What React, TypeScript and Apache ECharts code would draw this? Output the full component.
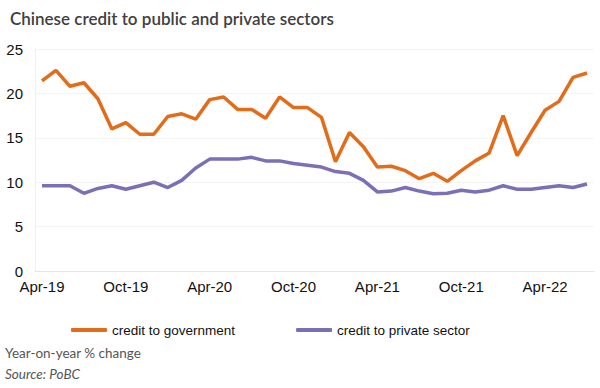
import React, { useEffect, useRef } from "react";
import * as echarts from "echarts";

const months = [
  "Apr-19","May-19","Jun-19","Jul-19","Aug-19","Sep-19","Oct-19","Nov-19","Dec-19","Jan-20","Feb-20","Mar-20",
  "Apr-20","May-20","Jun-20","Jul-20","Aug-20","Sep-20","Oct-20","Nov-20","Dec-20","Jan-21","Feb-21","Mar-21",
  "Apr-21","May-21","Jun-21","Jul-21","Aug-21","Sep-21","Oct-21","Nov-21","Dec-21","Jan-22","Feb-22","Mar-22",
  "Apr-22","May-22","Jun-22","Jul-22",
];

const creditGovernment = [
  21.4, 22.6, 20.8, 21.2, 19.4, 16.0, 16.7, 15.4, 15.4, 17.4, 17.7, 17.1,
  19.3, 19.6, 18.2, 18.2, 17.2, 19.6, 18.4, 18.4, 17.3, 12.3, 15.6, 14.0,
  11.7, 11.8, 11.3, 10.4, 11.0, 10.1, 11.3, 12.4, 13.3, 17.5, 13.0, 15.6,
  18.1, 19.1, 21.8, 22.3,
];

const creditPrivate = [
  9.6, 9.6, 9.6, 8.75, 9.3, 9.6, 9.2, 9.6, 10.0, 9.4, 10.2, 11.6,
  12.6, 12.6, 12.6, 12.8, 12.4, 12.4, 12.1, 11.9, 11.7, 11.2, 11.0, 10.2,
  8.9, 9.0, 9.4, 9.0, 8.7, 8.75, 9.1, 8.9, 9.1, 9.6, 9.2, 9.2,
  9.4, 9.6, 9.4, 9.8,
];

const yTicks = { min: 0, max: 25, interval: 5 };

const title = "Chinese credit to public and private sectors";
const note = "Year-on-year % change";
const source = "Source: PoBC";
const seriesNames = ["credit to government", "credit to private sector"];
const colors = ["#E36C1A", "#7B70B6"];

export default function App() {
  const ref = useRef<HTMLDivElement>(null);

  useEffect(() => {
    document.body.style.margin = "0";
    if (!ref.current) return;
    const chart = echarts.init(ref.current, undefined, { renderer: "svg" });
    chart.setOption({
      animation: false,
      backgroundColor: "#ffffff",
      color: colors,
      title: {
        text: title,
        left: 5,
        top: 5,
        textStyle: {
          fontFamily: "Lato",
          fontSize: 17,
          fontWeight: 600,
          color: "#404040",
        },
      },
      grid: { left: 35, right: 6, top: 49, bottom: 117, containLabel: false },
      legend: {
        left: 66,
        top: 318,
        itemGap: 61,
        itemWidth: 36,
        itemHeight: 4,
        icon: "roundRect",
        textStyle: { fontFamily: "Liberation Sans", fontSize: 13.5, color: "#111" },
        data: seriesNames,
      },
      xAxis: {
        type: "category",
        data: months,
        boundaryGap: true,
        axisLine: { lineStyle: { color: "#e6e6e6", width: 1 } },
        axisTick: { interval: 5, length: 4, lineStyle: { color: "#dddddd" } },
        axisLabel: {
          interval: 5,
          margin: 8,
          fontFamily: "Liberation Sans",
          fontSize: 15,
          color: "#111",
        },
        splitLine: { show: false },
      },
      yAxis: {
        type: "value",
        min: yTicks.min,
        max: yTicks.max,
        interval: yTicks.interval,
        axisLine: { show: true, lineStyle: { color: "#f0f0f0" } },
        axisTick: { show: false },
        axisLabel: {
          margin: 12,
          fontFamily: "Liberation Sans",
          fontSize: 15,
          color: "#111",
        },
        splitLine: { show: true, lineStyle: { color: "#f4f4f4" } },
      },
      graphic: [
        {
          type: "text",
          left: 5,
          top: 346,
          style: { text: note, fontFamily: "Lato", fontSize: 13.5, fill: "#555" },
        },
        {
          type: "text",
          left: 5,
          top: 367,
          style: { text: source, fontFamily: "Lato", fontStyle: "italic", fontSize: 13.5, fill: "#555" },
        },
      ],
      series: [
        {
          name: seriesNames[0],
          type: "line",
          data: creditGovernment,
          symbol: "none",
          lineStyle: { width: 3.5, color: colors[0] },
        },
        {
          name: seriesNames[1],
          type: "line",
          data: creditPrivate,
          symbol: "none",
          lineStyle: { width: 3.5, color: colors[1] },
        },
      ],
    });
    return () => chart.dispose();
  }, []);

  return <div ref={ref} style={{ width: 600, height: 388 }} />;
}
